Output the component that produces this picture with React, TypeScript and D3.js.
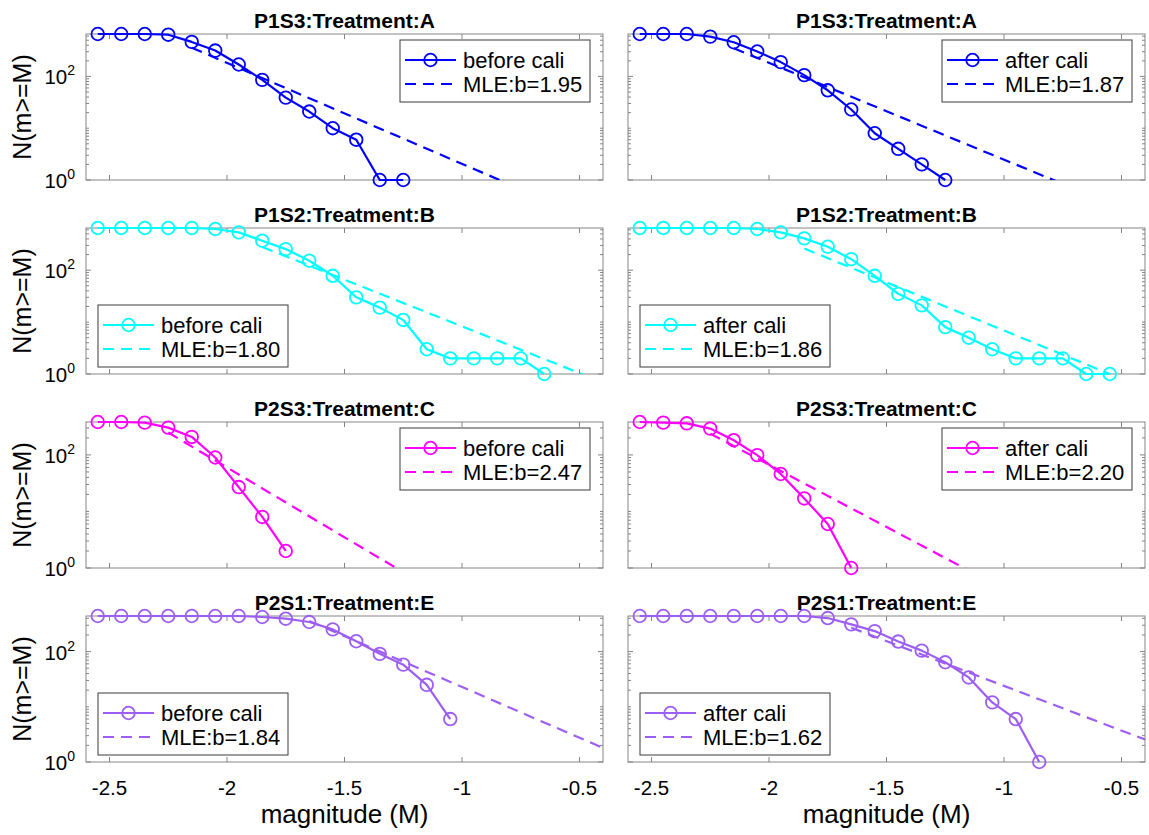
import React from 'react';
import * as d3 from 'd3';

// Magnitude bin centres (M) shared by every panel
const magnitudeBins = [
  -2.55, -2.45, -2.35, -2.25, -2.15, -2.05, -1.95, -1.85, -1.75, -1.65, -1.55,
  -1.45, -1.35, -1.25, -1.15, -1.05, -0.95, -0.85, -0.75, -0.65, -0.55,
];

const panelTitles = ['P1S3:Treatment:A', 'P1S2:Treatment:B', 'P2S3:Treatment:C', 'P2S1:Treatment:E'];
const seriesColors = ['#0000ff', '#00ffff', '#ff00ff', '#9d5ef3'];

// Cumulative counts N(m>=M), one array per treatment, before / after calibration
const countsBeforeA = [660, 660, 660, 640, 464, 316, 170, 86, 39, 21, 10, 6, 1, 1];
const countsAfterA = [660, 660, 660, 588, 457, 303, 189, 106, 54, 23, 8, 4, 2, 1];
const countsBeforeB = [650, 650, 650, 650, 650, 622, 536, 370, 255, 152, 78, 30, 19, 11, 3, 2, 2, 2, 2, 1];
const countsAfterB = [650, 650, 650, 650, 650, 622, 536, 410, 283, 163, 78, 35, 21, 8, 5, 3, 2, 2, 2, 1, 1];
const countsBeforeC = [382, 382, 372, 304, 208, 90, 27, 8, 2];
const countsAfterC = [382, 372, 362, 292, 182, 99, 46, 17, 6, 1];
const countsBeforeE = [441, 441, 441, 441, 441, 441, 441, 423, 394, 343, 252, 154, 91, 58, 25, 6];
const countsAfterE = [441, 441, 441, 441, 441, 441, 441, 441, 405, 311, 235, 152, 104, 64, 34, 12, 6, 1];

const countsBefore = [countsBeforeA, countsBeforeB, countsBeforeC, countsBeforeE];
const countsAfter = [countsAfterA, countsAfterB, countsAfterC, countsAfterE];

// Gutenberg-Richter MLE fits: log10 N = a - b M, drawn from Mc upward
const bBefore = [1.95, 1.8, 2.47, 1.84];
const bAfter = [1.87, 1.86, 2.2, 1.62];
const aBefore = [-1.638, -0.882, -3.162, -0.481];
const aAfter = [-1.477, -1.023, -2.574, -0.241];
const mcBefore = [-2.15, -1.85, -2.25, -1.65];
const mcAfter = [-2.15, -1.85, -2.25, -1.65];

const legendCorner = ['ne', 'sw', 'ne', 'sw'];

const xTicks = [-2.5, -2, -1.5, -1, -0.5];
const xTickLabels = ['-2.5', '-2', '-1.5', '-1', '-0.5'];
const yTicks = [1, 100];
const yTickExponents = ['0', '2'];

const X_DOMAIN: [number, number] = [-2.6, -0.4];
const FONT = '"Liberation Sans", Arial, Helvetica, sans-serif';

const colLeft = [86, 628];
const rowTop = [34, 228, 422, 616];
const plotW = 517;
const plotH = 146;

type PanelProps = {
  row: number;
  col: number;
};

function Panel({ row, col }: PanelProps) {
  const left = colLeft[col];
  const top = rowTop[row];
  const right = left + plotW;
  const bottom = top + plotH;
  const isAfter = col === 1;
  const counts = isAfter ? countsAfter[row] : countsBefore[row];
  const b = isAfter ? bAfter[row] : bBefore[row];
  const a = isAfter ? aAfter[row] : aBefore[row];
  const mc = isAfter ? mcAfter[row] : mcBefore[row];
  const color = seriesColors[row];
  const maxN = Math.max(...countsBefore[row], ...countsAfter[row]);

  const x = d3.scaleLinear().domain(X_DOMAIN).range([left, right]);
  const y = d3.scaleLog().domain([1, maxN]).range([bottom, top]);

  const pts: [number, number][] = counts.map((n, i) => [magnitudeBins[i], n]);
  const dataLine = d3
    .line<[number, number]>()
    .x((d) => x(d[0]))
    .y((d) => y(d[1]));

  const fitPts: [number, number][] = [mc, X_DOMAIN[1]].map((m) => [m, Math.pow(10, a - b * m)]);
  const fitLine = d3
    .line<[number, number]>()
    .x((d) => x(d[0]))
    .y((d) => y(d[1]));

  // minor ticks of the log axis
  const minorTicks: number[] = [];
  for (let k = 0; k < 3; k++) {
    for (let m = 1; m <= 9; m++) {
      const v = m * Math.pow(10, k);
      if (v > 1 && v < maxN && v !== 100) minorTicks.push(v);
    }
  }

  const clipId = `clip-${row}-${col}`;
  const axisColor = '#858585';

  // legend box
  const lw = 190;
  const lh = 62;
  const corner = legendCorner[row];
  const lx = corner === 'ne' ? right - 13 - lw : left + 12;
  const ly = corner === 'ne' ? top + 6 : bottom - 7 - lh;
  const label1 = isAfter ? 'after cali' : 'before cali';
  const label2 = `MLE:b=${b.toFixed(2)}`;

  return (
    <g>
      <defs>
        <clipPath id={clipId}>
          <rect x={left} y={top} width={plotW} height={plotH} />
        </clipPath>
      </defs>
      <rect x={left} y={top} width={plotW} height={plotH} fill="#fff" stroke={axisColor} strokeWidth={1} />

      {/* x ticks, bottom and top */}
      {xTicks.map((t) => (
        <g key={`xt${t}`} stroke={axisColor} strokeWidth={1}>
          <line x1={x(t)} x2={x(t)} y1={bottom} y2={bottom - 5} />
          <line x1={x(t)} x2={x(t)} y1={top} y2={top + 5} />
        </g>
      ))}
      {/* y ticks, left and right */}
      {yTicks.map((t) => (
        <g key={`yt${t}`} stroke={axisColor} strokeWidth={1}>
          <line x1={left} x2={left + 5} y1={y(t)} y2={y(t)} />
          <line x1={right} x2={right - 5} y1={y(t)} y2={y(t)} />
        </g>
      ))}
      {minorTicks.map((t) => (
        <g key={`ym${t}`} stroke={axisColor} strokeWidth={1}>
          <line x1={left} x2={left + 3} y1={y(t)} y2={y(t)} />
          <line x1={right} x2={right - 3} y1={y(t)} y2={y(t)} />
        </g>
      ))}

      {/* observed cumulative counts */}
      <path d={dataLine(pts) || ''} fill="none" stroke={color} strokeWidth={2.2} strokeLinejoin="round" />
      {pts.map((p, i) => (
        <circle key={i} cx={x(p[0])} cy={y(p[1])} r={6.3} fill="none" stroke={color} strokeWidth={1.8} />
      ))}

      {/* MLE fit */}
      <g clipPath={`url(#${clipId})`}>
        <path d={fitLine(fitPts) || ''} fill="none" stroke={color} strokeWidth={2.2} strokeDasharray="11,7" />
      </g>

      {/* title */}
      <text x={(left + right) / 2} y={top - 6} textAnchor="middle" fontFamily={FONT} fontWeight="bold" fontSize={21} fill="#000">
        {panelTitles[row]}
      </text>

      {/* x tick labels on the bottom row */}
      {row === 3 &&
        xTicks.map((t, i) => (
          <text key={`xl${t}`} x={x(t)} y={bottom + 33} textAnchor="middle" fontFamily={FONT} fontSize={20.5} fill="#000">
            {xTickLabels[i]}
          </text>
        ))}
      {row === 3 && (
        <text x={(left + right) / 2} y={823} textAnchor="middle" fontFamily={FONT} fontSize={26} fill="#000">
          magnitude (M)
        </text>
      )}

      {/* y tick labels and axis label on the left column */}
      {col === 0 &&
        yTicks.map((t, i) => (
          <text key={`yl${t}`} x={left - 11} y={y(t) + 8} textAnchor="end" fontFamily={FONT} fontSize={20.5} fill="#000">
            10
            <tspan dy={-9} fontSize={14}>
              {yTickExponents[i]}
            </tspan>
          </text>
        ))}
      {col === 0 && (
        <text
          transform={`translate(31,${(top + bottom) / 2}) rotate(-90)`}
          textAnchor="middle"
          fontFamily={FONT}
          fontSize={25}
          fill="#000"
        >
          N(m&gt;=M)
        </text>
      )}

      {/* legend */}
      <g>
        <rect x={lx} y={ly} width={lw} height={lh} fill="#fff" stroke="#3a3a3a" strokeWidth={1} />
        <line x1={lx + 5} x2={lx + 56} y1={ly + 20} y2={ly + 20} stroke={color} strokeWidth={2.2} />
        <circle cx={lx + 30.5} cy={ly + 20} r={6.3} fill="none" stroke={color} strokeWidth={1.8} />
        <text x={lx + 63} y={ly + 28} fontFamily={FONT} fontSize={22} fill="#000">
          {label1}
        </text>
        <line x1={lx + 5} x2={lx + 56} y1={ly + 44} y2={ly + 44} stroke={color} strokeWidth={2.2} strokeDasharray="11,7" />
        <text x={lx + 63} y={ly + 52} fontFamily={FONT} fontSize={22} fill="#000">
          {label2}
        </text>
      </g>
    </g>
  );
}

export default function App() {
  const rows = [0, 1, 2, 3];
  const cols = [0, 1];
  return (
    <svg
      width={1149}
      height={835}
      viewBox="0 0 1149 835"
      style={{ position: 'absolute', left: 0, top: 0, background: '#fff' }}
    >
      <rect x={0} y={0} width={1149} height={835} fill="#fff" />
      {rows.map((r) => cols.map((c) => <Panel key={`${r}-${c}`} row={r} col={c} />))}
    </svg>
  );
}
